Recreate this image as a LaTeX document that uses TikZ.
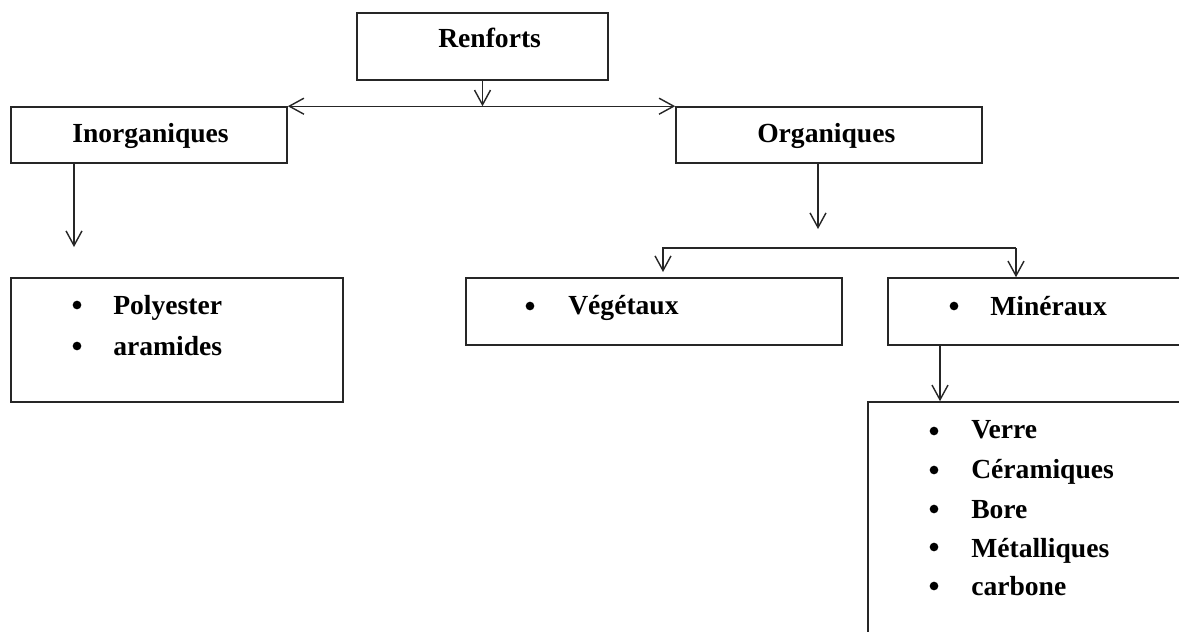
\documentclass[tikz,border=0pt]{standalone}
\usepackage{fontspec}
\setmainfont{Liberation Serif}
\usetikzlibrary{arrows.meta,fit}
\begin{document}
\begin{tikzpicture}[x=0.75pt,y=-0.75pt,
  box/.style={draw=black!85, line width=1.2pt, inner sep=0pt},
  lbl/.style={anchor=base west, inner sep=0pt, font=\fontsize{20.7}{24}\selectfont\bfseries},
  bul/.style={circle, fill=black, inner sep=0pt, minimum size=6.5pt},
  arr/.style={draw=black!85, line width=1.05pt, -{Straight Barb[length=11pt,width=12pt]}},
  arrb/.style={draw=black!85, line width=1.05pt, {Straight Barb[length=11pt,width=12pt]}-{Straight Barb[length=11pt,width=12pt]}},
  ln/.style={draw=black!85, line width=1.05pt}]
\useasboundingbox (0,0) rectangle (1179,632);
\fill[white] (0,0) rectangle (1179,632);
\clip (0,0) rectangle (1179,632);
% boxes
\node[box, fit={(357,13)(608,80)}] (renf) {};
\node[box, fit={(11,107)(287,163)}] (inorg) {};
\node[box, fit={(676,107)(982,163)}] (org) {};
\node[box, fit={(11,278)(343,402)}] (poly) {};
\node[box, fit={(466,278)(842,345)}] (veg) {};
\node[box, fit={(888,278)(1190,345)}] (min) {};
\node[box, fit={(868,402)(1190,645)}] (list) {};
% labels
\node[lbl] (tRenf) at (438,47) {Renforts};
\node[lbl] (tInorg) at (72,142) {Inorganiques};
\node[lbl] (tOrg) at (757,142) {Organiques};
\node[bul] (bP1) at (77,305) {};
\node[lbl] (tP1) at (113,314) {Polyester};
\node[bul] (bP2) at (77,346) {};
\node[lbl] (tP2) at (113,355) {aramides};
\node[bul] (bV) at (530,306) {};
\node[lbl] (tV) at (568,314) {Végétaux};
\node[bul] (bM) at (954,306) {};
\node[lbl] (tM) at (990,315) {Minéraux};
\node[bul] (bL1) at (934,431) {};
\node[lbl] (tL1) at (971,438) {Verre};
\node[bul] (bL2) at (934,470) {};
\node[lbl] (tL2) at (971,478) {Céramiques};
\node[bul] (bL3) at (934,509) {};
\node[lbl] (tL3) at (971,518) {Bore};
\node[bul] (bL4) at (934,547) {};
\node[lbl] (tL4) at (971,557) {Métalliques};
\node[bul] (bL5) at (934,586) {};
\node[lbl] (tL5) at (971,595) {carbone};
% coordinates
\coordinate (inorgEnd) at (74,247);
\coordinate (orgEnd) at (818,229);
\coordinate (brL) at (663,248);
\coordinate (brR) at (1016,248);
\coordinate (vegTip) at (663,272);
\coordinate (minX) at (940,0);
% connectors
\draw[arr] (renf.south) -- (renf.south |- inorg.north);
\draw[arrb] (inorg.north east) -- (org.north west);
\draw[arr] (inorgEnd |- inorg.south) -- (inorgEnd);
\draw[arr] (orgEnd |- org.south) -- (orgEnd);
\draw[arr] (brR) -- (brL) -- (vegTip);
\draw[arr] (brR) -- (brR |- min.north);
\draw[arr] (minX |- min.south) -- (minX |- list.north);
\end{tikzpicture}
\end{document}
